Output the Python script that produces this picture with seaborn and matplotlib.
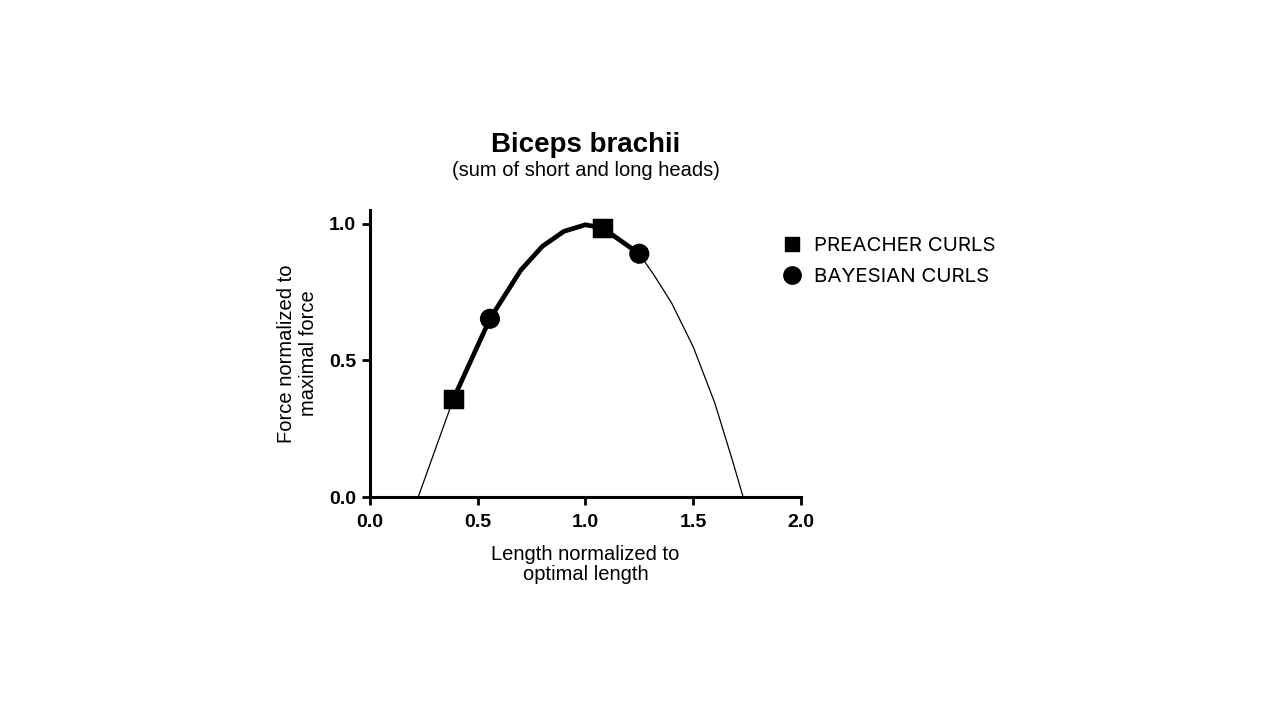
import numpy as np
import pandas as pd
import matplotlib
matplotlib.use("Agg")
import matplotlib.pyplot as plt
import seaborn as sns
from matplotlib.lines import Line2D

# curve
length = [0.224, 0.387, 0.557, 0.70, 0.80, 0.90, 1.00, 1.08, 1.25, 1.32, 1.40, 1.50, 1.60, 1.68, 1.732]
force = [0.0, 0.358, 0.652, 0.83, 0.917, 0.972, 0.996, 0.984, 0.89, 0.81, 0.71, 0.55, 0.345, 0.14, 0.0]

# exercise points
exercise = ["PREACHER CURLS", "BAYESIAN CURLS", "PREACHER CURLS", "BAYESIAN CURLS"]
ex_length = [0.387, 0.557, 1.08, 1.25]
ex_force = [0.358, 0.652, 0.984, 0.89]

curve = pd.DataFrame({"length": length, "force": force})
used = curve[(curve.length >= 0.387) & (curve.length <= 1.25)]
pts = pd.DataFrame({"length": ex_length, "force": ex_force, "exercise": exercise})

sns.set_style("white")
plt.rcParams["font.family"] = ["Liberation Sans", "DejaVu Sans"]
plt.rcParams["text.color"] = "black"
plt.rcParams["axes.labelcolor"] = "black"
plt.rcParams["xtick.color"] = "black"
plt.rcParams["ytick.color"] = "black"

fig = plt.figure(figsize=(12.8, 7.2), dpi=100)
ax = fig.add_axes([0.289, 0.3097, 0.3367, 0.3986])

sns.lineplot(data=curve, x="length", y="force", color="black", linewidth=0.9,
             sort=False, estimator=None, ax=ax)
sns.lineplot(data=used, x="length", y="force", color="black", linewidth=3.4,
             sort=False, estimator=None, ax=ax)
sns.scatterplot(data=pts, x="length", y="force", style="exercise",
                markers={"PREACHER CURLS": "s", "BAYESIAN CURLS": "o"},
                color="black", s=180, edgecolor="black", legend=False, zorder=5, ax=ax)

ax.set_xlim(0, 2.0)
ax.set_ylim(0, 1.05)
ax.set_xticks([0, 0.5, 1.0, 1.5, 2.0])
ax.set_yticks([0, 0.5, 1.0])
ax.set_xticklabels(["0.0", "0.5", "1.0", "1.5", "2.0"], fontweight="bold", fontsize=14)
ax.set_yticklabels(["0.0", "0.5", "1.0"], fontweight="bold", fontsize=14)
ax.tick_params(bottom=True, left=True, direction="out", length=6, width=2, color="black")
ax.tick_params(axis="x", pad=6)
ax.tick_params(axis="y", pad=4)
for s in ["top", "right"]:
    ax.spines[s].set_visible(False)
for s in ["left", "bottom"]:
    ax.spines[s].set_linewidth(2.2)
    ax.spines[s].set_color("black")

ax.set_xlabel("Length normalized to\noptimal length", fontsize=14.5, labelpad=10, linespacing=1.1)
ax.set_ylabel("Force normalized to\nmaximal force", fontsize=14.5, labelpad=8, linespacing=1.2)

fig.text(0.4578, 0.799, "Biceps brachii", ha="center", va="center", fontsize=20, fontweight="bold")
fig.text(0.4578, 0.763, "(sum of short and long heads)", ha="center", va="center", fontsize=14.5)

handles = [
    Line2D([], [], linestyle="none", marker="s", markersize=10.5, color="black"),
    Line2D([], [], linestyle="none", marker="o", markersize=12.5, color="black"),
]
fig.legend(handles, ["PREACHER CURLS", "BAYESIAN CURLS"], loc="upper left",
           bbox_to_anchor=(0.596, 0.697), frameon=False, handletextpad=0.6,
           labelspacing=0.6, prop={"family": "Inter", "size": 14.8}, handlelength=1.0)

fig.savefig("out.png", dpi=100)
